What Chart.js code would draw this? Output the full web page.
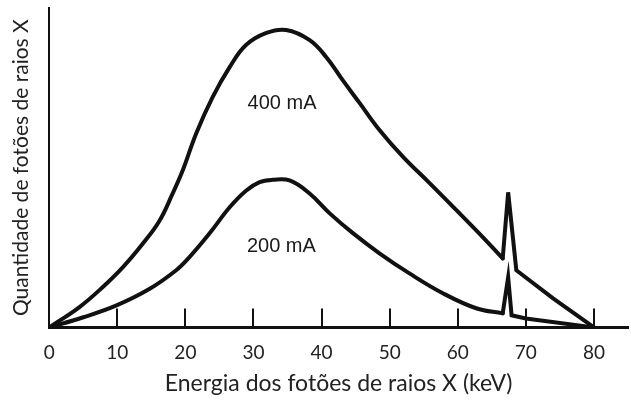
<!DOCTYPE html>
<html>
<head>
<meta charset="utf-8">
<script src="https://cdn.jsdelivr.net/npm/chart.js@4"></script>
<style>
  html, body { margin: 0; padding: 0; background: #fff; }
  #wrap { width: 631px; height: 401px; }
</style>
</head>
<body>
<div id="wrap"><canvas id="spectrumChart"></canvas></div>
<script>
// energy (keV) and relative photon count
const energy400 = [0, 4.4, 7.8, 10.8, 13.7, 16.2, 18.1, 19.6, 21.6, 24, 26.5, 28.9, 31.9, 34.8, 38.2, 40.7, 43.1, 45.6, 48.5, 52, 55.9, 59.8, 63.7, 66.6, 67.4, 68.6, 74, 80];
const count400 = [0, 6.3, 12.5, 18.8, 26.1, 33.4, 41.8, 49.1, 60.8, 72.1, 81.5, 88.4, 92.2, 93.1, 90, 84.6, 77.4, 70.2, 61.8, 53.3, 45.1, 36.7, 28.2, 21.6, 42.3, 17.9, 9.1, 0];

const energy200 = [0, 4.9, 9.8, 14.7, 18.6, 20.6, 23.5, 26.5, 28.9, 30.9, 32.8, 35.3, 38.2, 41.2, 44.6, 48.5, 52.9, 57.8, 62.7, 66.6, 67.4, 67.9, 70, 80];
const count200 = [0, 3.1, 6.8, 12, 17.8, 22, 29.3, 37.6, 42.8, 45.5, 46.2, 46, 42, 35.7, 29.5, 23.2, 16.9, 10.7, 6, 4.4, 15.7, 3.8, 2.8, 0];

// the characteristic spike and the tail after it are drawn with straight segments
const spikeFrom = 66.6;

const xTicks = [0, 10, 20, 30, 40, 50, 60, 70, 80];

// curve labels, anchored in data units
const curveLabels = ['400 mA', '200 mA'];
const labelEnergy = [34.2, 34.1];
const labelCount = [70.1, 25.2];

const toPoints = (xs, ys) => xs.map((x, i) => ({ x: x, y: ys[i] }));

function curveDatasets(name, xs, ys) {
    const pts = toPoints(xs, ys);
    const base = { label: name, borderColor: '#111', borderWidth: 4, pointRadius: 0, fill: false, borderCapStyle: 'round', borderJoinStyle: 'round' };
    return [
        Object.assign({}, base, { data: pts.filter(p => p.x <= spikeFrom), tension: 0.4 }),
        Object.assign({}, base, { data: pts.filter(p => p.x >= spikeFrom), tension: 0, borderJoinStyle: 'miter' })
    ];
}

const curveLabelPlugin = {
    id: 'curveLabels',
    afterDatasetsDraw(chart) {
        const ctx = chart.ctx;
        const xs = chart.scales.x, ys = chart.scales.y;
        ctx.save();
        ctx.font = '20px "Liberation Sans", Arial, sans-serif';
        ctx.fillStyle = '#1a1a1a';
        ctx.textAlign = 'center';
        ctx.textBaseline = 'middle';
        curveLabels.forEach((t, i) => {
            ctx.fillText(t, xs.getPixelForValue(labelEnergy[i]), ys.getPixelForValue(labelCount[i]));
        });
        ctx.restore();
    }
};

new Chart(document.getElementById('spectrumChart'), {
    type: 'line',
    data: {
        datasets: [].concat(
            curveDatasets('400 mA', energy400, count400),
            curveDatasets('200 mA', energy200, count200)
        )
    },
    options: {
        responsive: true,
        maintainAspectRatio: false,
        animation: false,
        layout: { padding: { left: 4, right: 3, top: 8, bottom: 2 } },
        plugins: {
            legend: { display: false },
            tooltip: { enabled: false }
        },
        scales: {
            x: {
                type: 'linear',
                min: 0,
                max: 85,
                afterBuildTicks: (axis) => { axis.ticks = xTicks.map(v => ({ value: v })); },
                ticks: {
                    includeBounds: false,
                    padding: 2,
                    color: '#222',
                    // tall line box pushes the labels below the inward tick marks
                    font: { family: 'Lato', size: 19, lineHeight: '84px' }
                },
                grid: {
                    drawOnChartArea: false,
                    tickLength: -19,
                    color: '#111',
                    lineWidth: 2
                },
                border: { color: '#111', width: 3 },
                title: {
                    display: true,
                    text: 'Energia dos fotões de raios X (keV)',
                    color: '#222',
                    font: { family: 'Lato', size: 23 },
                    padding: { top: -27, bottom: 2 }
                }
            },
            y: {
                min: 0,
                max: 100,
                ticks: { display: false },
                grid: { drawOnChartArea: false, drawTicks: false },
                border: { color: '#111', width: 2 },
                title: {
                    display: true,
                    text: 'Quantidade de fotões de raios X',
                    color: '#222',
                    font: { family: 'Lato', size: 21 },
                    padding: { top: 5, bottom: 15 }
                }
            }
        }
    },
    plugins: [curveLabelPlugin]
});
</script>
</body>
</html>
